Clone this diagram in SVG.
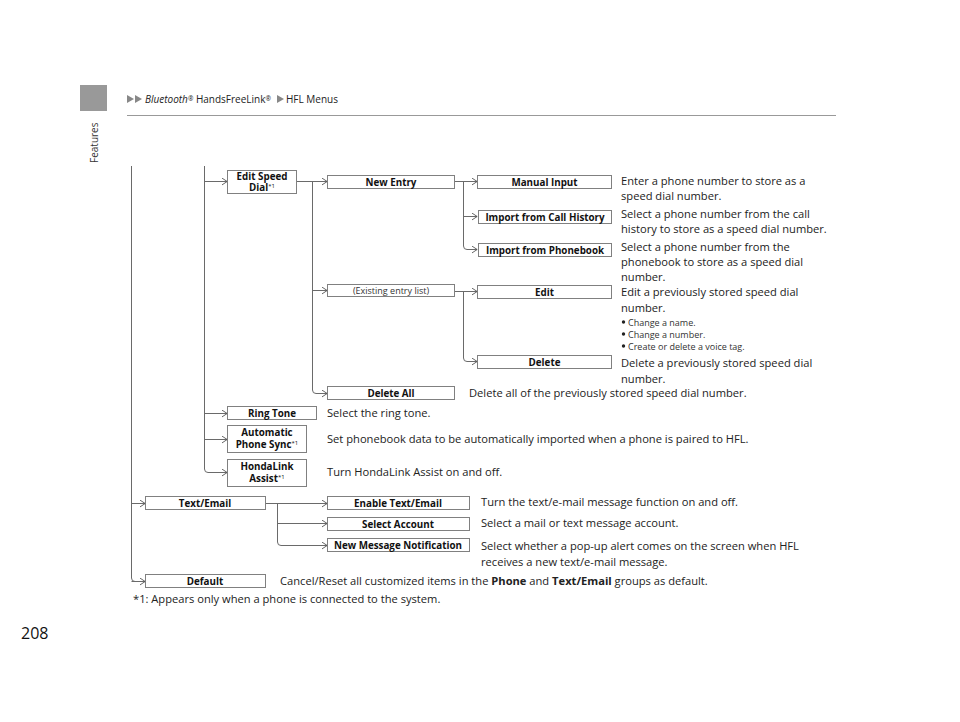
<svg xmlns="http://www.w3.org/2000/svg" width="960" height="722" viewBox="0 0 960 722">
<defs>
<marker id="arr" markerUnits="userSpaceOnUse" markerWidth="8" markerHeight="8" refX="6" refY="4" orient="auto">
<path d="M1,0.6 L6.2,4 L1,7.4" fill="none" stroke="#555" stroke-width="0.9"/>
</marker>
</defs>
<style>
.bx{fill:#fff;stroke:#808080;stroke-width:1}
.bl{font-family:"Open Sans","Noto Sans",sans-serif;font-weight:bold;font-size:9.8px;fill:#111;text-anchor:middle}
.sup{font-size:6px;font-weight:normal}
.ds{font-family:"Open Sans","Noto Sans",sans-serif;font-size:11.15px;fill:#222}
.sm{font-family:"Open Sans","Noto Sans",sans-serif;font-size:9px;fill:#333}
.ln{fill:none;stroke:#6a6a6a;stroke-width:1}
.ar{fill:none;stroke:#6a6a6a;stroke-width:1;marker-end:url(#arr)}
</style>
<rect width="960" height="722" fill="#fff"/>

<g id="header">
<path d="M127,95 L134,99 L127,103 Z M135,95 L142,99 L135,103 Z" fill="#888"/>
<text x="145" y="103" font-family="'Open Sans','Noto Sans',sans-serif" font-size="10" fill="#222"><tspan font-style="italic">Bluetooth</tspan><tspan font-size="6.5" dy="-2.5">®</tspan><tspan dy="2.5"> HandsFreeLink</tspan><tspan font-size="6.5" dy="-2.5">®</tspan></text>
<path d="M277,95 L284,99 L277,103 Z" fill="#888"/>
<text x="286" y="103" font-family="'Open Sans','Noto Sans',sans-serif" font-size="10" fill="#222">HFL Menus</text>
<line x1="127" y1="115.5" x2="836" y2="115.5" stroke="#999" stroke-width="1"/>
</g>

<g id="sidebar">
<rect x="80" y="85" width="27" height="26" fill="#999"/>
<text transform="translate(97.5,163) rotate(-90)" font-family="'Open Sans','Noto Sans',sans-serif" font-size="10" fill="#333">Features</text>
</g>

<g id="connectors">
<path class="ln" d="M131.5,166 V578 Q131.5,581.5 135,581.5 H145"/>
<path class="ar" d="M131.5,581.5 H145"/>
<path class="ar" d="M131.5,503.5 H145"/>
<path class="ln" d="M204.5,166 V469 Q204.5,472.5 208,472.5"/>
<path class="ar" d="M208,472.5 H227"/>
<path class="ar" d="M204.5,181.5 H227"/>
<path class="ar" d="M204.5,413.5 H227"/>
<path class="ar" d="M204.5,439.5 H227"/>
<path class="ln" d="M297,181.5 H312.5 V390 Q312.5,393.5 316,393.5"/>
<path class="ar" d="M312,181.5 H327"/>
<path class="ar" d="M312.5,290.5 H327"/>
<path class="ar" d="M316,393.5 H327"/>
<path class="ln" d="M455,181.5 H463.5 V246 Q463.5,249.5 467,249.5"/>
<path class="ar" d="M463,181.5 H477"/>
<path class="ar" d="M463.5,216.5 H477"/>
<path class="ar" d="M467,249.5 H477"/>
<path class="ln" d="M455,291.5 H463.5 V358 Q463.5,361.5 467,361.5"/>
<path class="ar" d="M463,291.5 H477"/>
<path class="ar" d="M467,361.5 H477"/>
<path class="ln" d="M265,503.5 H277.5 V542 Q277.5,545.5 281,545.5"/>
<path class="ar" d="M277,503.5 H327"/>
<path class="ar" d="M277.5,523.5 H327"/>
<path class="ar" d="M281,545.5 H327"/>
</g>

<g id="edit-speed-dial">
<rect class="bx" x="227.5" y="170.5" width="69" height="23"/>
<text class="bl" x="262" y="179.5">Edit Speed</text>
<text class="bl" x="262" y="191">Dial<tspan class="sup" dy="-3.5">*1</tspan></text>
</g>
<g id="new-entry">
<rect class="bx" x="327.5" y="175.5" width="127" height="13"/>
<text class="bl" x="391" y="185.5">New Entry</text>
</g>
<g id="manual-input">
<rect class="bx" x="477.5" y="175.5" width="134" height="13"/>
<text class="bl" x="544.5" y="185.5">Manual Input</text>
<text class="ds" x="621" y="185">Enter a phone number to store as a</text>
<text class="ds" x="621" y="200">speed dial number.</text>
</g>
<g id="import-call-history">
<rect class="bx" x="478.5" y="210.5" width="133" height="13"/>
<text class="bl" x="545" y="220.5">Import from Call History</text>
<text class="ds" x="621" y="218">Select a phone number from the call</text>
<text class="ds" x="621" y="233">history to store as a speed dial number.</text>
</g>
<g id="import-phonebook">
<rect class="bx" x="478.5" y="243.5" width="133" height="13"/>
<text class="bl" x="545" y="253.5">Import from Phonebook</text>
<text class="ds" x="621" y="251">Select a phone number from the</text>
<text class="ds" x="621" y="266">phonebook to store as a speed dial</text>
<text class="ds" x="621" y="281">number.</text>
</g>
<g id="existing-entry-list">
<rect class="bx" x="327.5" y="284.5" width="127" height="12"/>
<text class="sm" x="391" y="293.5" text-anchor="middle">(Existing entry list)</text>
</g>
<g id="edit">
<rect class="bx" x="477.5" y="285.5" width="134" height="13"/>
<text class="bl" x="544.5" y="295.5">Edit</text>
<text class="ds" x="621" y="296">Edit a previously stored speed dial</text>
<text class="ds" x="621" y="312">number.</text>
<circle cx="623.5" cy="322" r="1.7" fill="#222"/>
<text class="sm" x="628" y="325.5">Change a name.</text>
<circle cx="623.5" cy="334" r="1.7" fill="#222"/>
<text class="sm" x="628" y="337.5">Change a number.</text>
<circle cx="623.5" cy="346" r="1.7" fill="#222"/>
<text class="sm" x="628" y="349.5">Create or delete a voice tag.</text>
</g>
<g id="delete">
<rect class="bx" x="477.5" y="355.5" width="134" height="13"/>
<text class="bl" x="544.5" y="365.5">Delete</text>
<text class="ds" x="621" y="367">Delete a previously stored speed dial</text>
<text class="ds" x="621" y="383">number.</text>
</g>
<g id="delete-all">
<rect class="bx" x="327.5" y="386.5" width="127" height="13"/>
<text class="bl" x="391" y="396.5">Delete All</text>
<text class="ds" x="469" y="397">Delete all of the previously stored speed dial number.</text>
</g>
<g id="ring-tone">
<rect class="bx" x="227.5" y="406.5" width="89" height="13"/>
<text class="bl" x="272" y="416.5">Ring Tone</text>
<text class="ds" x="327" y="417">Select the ring tone.</text>
</g>
<g id="automatic-phone-sync">
<rect class="bx" x="227.5" y="425.5" width="79" height="27"/>
<text class="bl" x="267" y="436">Automatic</text>
<text class="bl" x="267" y="448">Phone Sync<tspan class="sup" dy="-3.5">*1</tspan></text>
<text class="ds" x="327" y="443">Set phonebook data to be automatically imported when a phone is paired to HFL.</text>
</g>
<g id="hondalink-assist">
<rect class="bx" x="227.5" y="459.5" width="79" height="27"/>
<text class="bl" x="267" y="470">HondaLink</text>
<text class="bl" x="267" y="482">Assist<tspan class="sup" dy="-3.5">*1</tspan></text>
<text class="ds" x="327" y="476">Turn HondaLink Assist on and off.</text>
</g>
<g id="text-email">
<rect class="bx" x="145.5" y="496.5" width="120" height="13"/>
<text class="bl" x="205" y="506.5">Text/Email</text>
</g>
<g id="enable-text-email">
<rect class="bx" x="327.5" y="496.5" width="142" height="13"/>
<text class="bl" x="398" y="506.5">Enable Text/Email</text>
<text class="ds" x="481" y="506">Turn the text/e-mail message function on and off.</text>
</g>
<g id="select-account">
<rect class="bx" x="327.5" y="517.5" width="142" height="13"/>
<text class="bl" x="398" y="527.5">Select Account</text>
<text class="ds" x="481" y="527">Select a mail or text message account.</text>
</g>
<g id="new-message-notification">
<rect class="bx" x="327.5" y="538.5" width="142" height="13"/>
<text class="bl" x="398" y="548.5">New Message Notification</text>
<text class="ds" x="481" y="550">Select whether a pop-up alert comes on the screen when HFL</text>
<text class="ds" x="481" y="566">receives a new text/e-mail message.</text>
</g>
<g id="default">
<rect class="bx" x="145.5" y="574.5" width="120" height="13"/>
<text class="bl" x="205" y="584.5">Default</text>
<text class="ds" x="280" y="585">Cancel/Reset all customized items in the <tspan font-weight="bold">Phone</tspan> and <tspan font-weight="bold">Text/Email</tspan> groups as default.</text>
</g>

<g id="footnote">
<text class="ds" x="133" y="603">*1: Appears only when a phone is connected to the system.</text>
</g>
<g id="page-number">
<text x="21" y="639" font-family="'Open Sans','Noto Sans',sans-serif" font-size="16" fill="#111">208</text>
</g>
</svg>
